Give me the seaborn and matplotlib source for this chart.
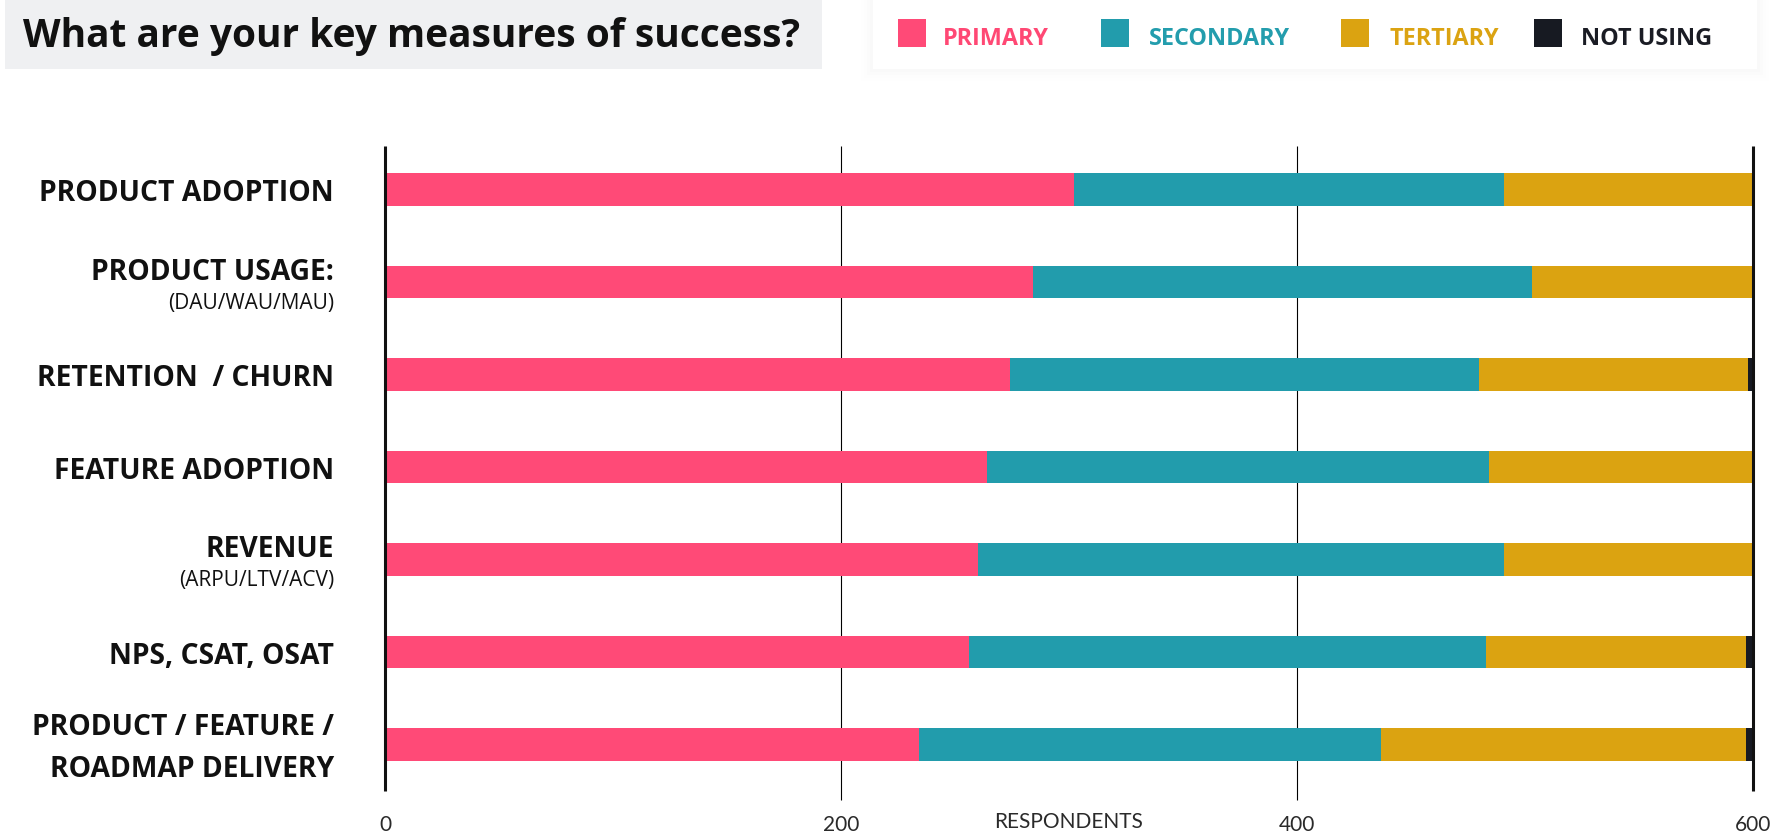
import numpy as np
import pandas as pd
import matplotlib
matplotlib.use("Agg")
import matplotlib.pyplot as plt
from matplotlib.patches import Rectangle
import seaborn as sns

# ---- data -------------------------------------------------------------
categories = [
    "PRODUCT ADOPTION",
    "PRODUCT USAGE:",
    "RETENTION  / CHURN",
    "FEATURE ADOPTION",
    "REVENUE",
    "NPS, CSAT, OSAT",
    "PRODUCT / FEATURE /\nROADMAP DELIVERY",
]
sublabels = ["", "(DAU/WAU/MAU)", "", "", "(ARPU/LTV/ACV)", "", ""]

primary = [302, 284, 274, 264, 260, 256, 234]
secondary = [189, 219, 206, 220, 231, 227, 203]
tertiary = [109, 97, 118, 116, 109, 114, 160]
not_using = [0, 0, 2, 0, 0, 3, 3]

series_names = ["PRIMARY", "SECONDARY", "TERTIARY", "NOT USING"]
series_colors = ["#FF4A77", "#229CAC", "#DBA311", "#171A22"]
legend_text_colors = ["#FF4874", "#239DAD", "#DBA312", "#1A1C24"]

xticks = [0, 200, 400, 600]
xtick_labels = ["0", "200", "400", "600"]
x_title = "RESPONDENTS"
title = "What are your key measures of success?"

# ---- figure -------------------------------------------------------------
W, H = 1789, 833
sns.set_style("white")
plt.rcParams["font.family"] = ["Open Sans", "DejaVu Sans"]

fig = plt.figure(figsize=(W / 100, H / 100), dpi=100)
fig.patch.set_facecolor("white")

AX_H = 654
ax = fig.add_axes([385 / W, 33 / H, 1368 / W, AX_H / H])

df = pd.DataFrame({
    "category": categories,
    "primary": primary,
    "secondary": secondary,
    "tertiary": tertiary,
    "not_using": not_using,
})
df["c1"] = df["primary"]
df["c2"] = df["c1"] + df["secondary"]
df["c3"] = df["c2"] + df["tertiary"]
df["c4"] = df["c3"] + df["not_using"]

# stacked bars: draw cumulative totals from the outermost segment inwards
for col, color in zip(["c4", "c3", "c2", "c1"], series_colors[::-1]):
    sns.barplot(data=df, y="category", x=col, color=color, saturation=1,
                width=0.35, orient="h", ax=ax, linewidth=0, zorder=2)

y_top, y_bot = -0.47, 6.6
ax.set_xlim(0, 600)
ax.set_ylim(y_bot, y_top)
px = (y_bot - y_top) / AX_H          # data units per pixel along y

# reference lines
for xv in [200, 400]:
    ax.vlines(xv, y_top, y_bot, color="#000000", lw=0.8, zorder=1, clip_on=False)
for xv in [0, 600]:
    ax.vlines(xv, y_top, 6.5, color="#111111", lw=2.2, zorder=3, clip_on=False)

for s in ax.spines.values():
    s.set_visible(False)

tick_font = dict(family=["Lato", "DejaVu Sans"], fontsize=15, fontweight="normal",
                 color="#2a2a2a")
ax.set_xticks(xticks)
ax.set_xticklabels(xtick_labels, **tick_font)
ax.tick_params(axis="x", length=0, pad=11)
ax.set_yticks(range(len(categories)))
ax.set_yticklabels([])
ax.tick_params(axis="y", length=0)
ax.set_xlabel("")
ax.set_ylabel("")

ax.text(300, -22 / AX_H, x_title, transform=ax.get_xaxis_transform(),
        ha="center", va="center", **tick_font)

# category labels (baseline-anchored)
ytr = ax.get_yaxis_transform()
lx = -51 / 1368
main_font = dict(fontsize=20.3, fontweight="bold", color="#111111")
sub_font = dict(fontsize=15, fontweight="normal", color="#111111")
for i, (lab, sub) in enumerate(zip(categories, sublabels)):
    lines = lab.split("\n")
    if sub:
        ax.text(lx, i - 2 * px, lab, transform=ytr, ha="right", va="baseline", **main_font)
        ax.text(lx, i + 27 * px, sub, transform=ytr, ha="right", va="baseline", **sub_font)
    elif len(lines) == 2:
        ax.text(lx, i - 9 * px, lines[0], transform=ytr, ha="right", va="baseline", **main_font)
        ax.text(lx, i + 33 * px, lines[1], transform=ytr, ha="right", va="baseline", **main_font)
    else:
        ax.text(lx, i + 12 * px, lab, transform=ytr, ha="right", va="baseline", **main_font)

# title band
fig.patches.append(Rectangle((5 / W, 1 - 69 / H), 817 / W, 69 / H,
                             transform=fig.transFigure, facecolor="#EFF0F2",
                             edgecolor="none", zorder=0))
fig.text(23 / W, 1 - 46.5 / H, title, ha="left", va="baseline",
         fontsize=28, fontweight="bold", color="#111111")

# legend panel with a faint soft shadow
for k, a in enumerate([0.004, 0.005, 0.006, 0.008]):
    g = 12 - 3 * k
    fig.patches.append(Rectangle(((873 - g) / W, 1 - (69 + g) / H),
                                 (884 + 2 * g) / W, (69 + 2 * g) / H,
                                 transform=fig.transFigure, facecolor="#000000",
                                 alpha=a, edgecolor="none", zorder=0))
fig.patches.append(Rectangle((873 / W, 1 - 69 / H), 884 / W, 69 / H,
                             transform=fig.transFigure, facecolor="white",
                             edgecolor="none", zorder=0))

sw_x = [898, 1101, 1341, 1534]
tx_x = [943, 1149, 1389, 1581]
for name, c, tc, sx, tx in zip(series_names, series_colors, legend_text_colors, sw_x, tx_x):
    fig.patches.append(Rectangle((sx / W, 1 - 47 / H), 28 / W, 28 / H,
                                 transform=fig.transFigure, facecolor=c,
                                 edgecolor="none", zorder=1))
    fig.text(tx / W, 1 - 45 / H, name, ha="left", va="baseline",
             fontsize=16.8, fontweight="bold", color=tc)

fig.savefig("out.png", dpi=100, facecolor="white")
